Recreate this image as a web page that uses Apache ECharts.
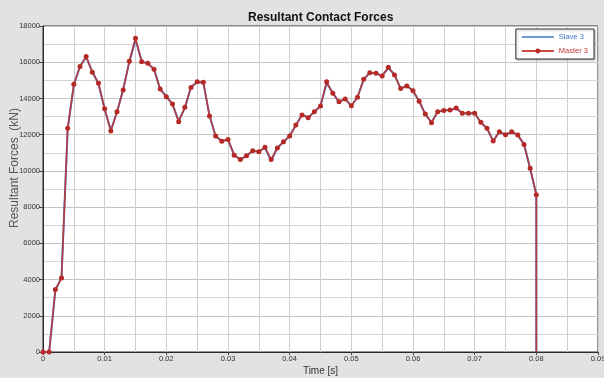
<!DOCTYPE html>
<html>
<head>
<meta charset="utf-8">
<script src="https://cdn.jsdelivr.net/npm/echarts@6/dist/echarts.min.js"></script>
<style>
  html, body { margin: 0; padding: 0; background: #e2e2e2; }
  #chart { width: 604px; height: 378px; }
</style>
</head>
<body>
<div id="chart"></div>
<script>
// Sample times (s)
const times = [
  0.000, 0.001, 0.002, 0.003, 0.004, 0.005, 0.006, 0.007, 0.008, 0.009,
  0.010, 0.011, 0.012, 0.013, 0.014, 0.015, 0.016, 0.017, 0.018, 0.019,
  0.020, 0.021, 0.022, 0.023, 0.024, 0.025, 0.026, 0.027, 0.028, 0.029,
  0.030, 0.031, 0.032, 0.033, 0.034, 0.035, 0.036, 0.037, 0.038, 0.039,
  0.040, 0.041, 0.042, 0.043, 0.044, 0.045, 0.046, 0.047, 0.048, 0.049,
  0.050, 0.051, 0.052, 0.053, 0.054, 0.055, 0.056, 0.057, 0.058, 0.059,
  0.060, 0.061, 0.062, 0.063, 0.064, 0.065, 0.066, 0.067, 0.068, 0.069,
  0.070, 0.071, 0.072, 0.073, 0.074, 0.075, 0.076, 0.077, 0.078, 0.079,
  0.080, 0.080
];

// Resultant force on the master surface (kN)
const masterForces = [
  0, 0, 3450, 4080, 12350, 14780, 15760, 16310, 15450, 14840,
  13430, 12200, 13270, 14470, 16050, 17320, 16030, 15940, 15610, 14520,
  14100, 13690, 12720, 13510, 14610, 14920, 14890, 13030, 11920, 11640,
  11740, 10870, 10630, 10830, 11110, 11060, 11300, 10630, 11260, 11610,
  11920, 12530, 13080, 12930, 13270, 13580, 14920, 14280, 13820, 13970,
  13600, 14060, 15060, 15420, 15390, 15240, 15720, 15300, 14550, 14690,
  14430, 13840, 13140, 12660, 13270, 13340, 13360, 13470, 13180, 13180,
  13180, 12680, 12350, 11650, 12160, 12000, 12160, 11980, 11460, 10140,
  8680, 0
];

// Resultant force on the slave surface (kN)
const slaveForces = [
  0, 0, 3400, 4120, 12300, 14740, 15780, 16290, 15470, 14800,
  13400, 12230, 13250, 14500, 16020, 17250, 16050, 15920, 15630, 14500,
  14120, 13670, 12750, 13480, 14630, 14900, 14870, 13060, 11900, 11660,
  11720, 10890, 10610, 10850, 11090, 11080, 11280, 10560, 11280, 11590,
  11940, 12510, 13100, 12950, 13250, 13600, 14860, 14300, 13800, 13990,
  13580, 14080, 15040, 15440, 15370, 15260, 15680, 15320, 14530, 14710,
  14410, 13860, 13120, 12680, 13250, 13360, 13340, 13450, 13200, 13160,
  13200, 12660, 12370, 11630, 12180, 11980, 12180, 11960, 11480, 10120,
  8700, 0
];

const seriesNames = ['Slave 3', 'Master 3'];
const xTicks = [0, 0.01, 0.02, 0.03, 0.04, 0.05, 0.06, 0.07, 0.08, 0.09];

const slaveColor = '#3f74c8';
const masterColor = '#c4362f';

function pairs(values) {
  return values.map((v, i) => {
    const item = { value: [times[i], v] };
    // the closing drop to zero carries no marker
    if (i === values.length - 1) item.symbol = 'none';
    return item;
  });
}

const chart = echarts.init(document.getElementById('chart'), null, { renderer: 'canvas' });
const font = 'Liberation Sans, Arial, sans-serif';

chart.setOption({
  backgroundColor: '#e2e2e2',
  animation: false,
  title: {
    text: 'Resultant Contact Forces',
    left: 243, top: 7,
    textStyle: { fontFamily: font, fontSize: 12, fontWeight: 'bold', color: '#111' }
  },
  legend: {
    data: [
      { name: seriesNames[0], icon: 'path://M0,0L40,0L40,1.6L0,1.6Z', textStyle: { color: slaveColor } },
      { name: seriesNames[1], textStyle: { color: masterColor } }
    ],
    orient: 'vertical',
    right: 10, top: 29,
    padding: [4, 6, 4, 5],
    itemGap: 6,
    itemWidth: 32, itemHeight: 6,
    backgroundColor: '#ffffff',
    borderColor: '#333',
    borderWidth: 1,
    shadowColor: 'rgba(0,0,0,0.25)', shadowBlur: 2, shadowOffsetX: 1, shadowOffsetY: 1,
    textStyle: { fontFamily: font, fontSize: 7.5 }
  },
  grid: {
    left: 43, right: 6, top: 26, bottom: 26,
    containLabel: false,
    outerBoundsMode: 'none',
    show: true, backgroundColor: '#ffffff',
    borderColor: '#2a2a2a', borderWidth: 1
  },
  xAxis: {
    type: 'value',
    min: 0, max: 0.09, interval: 0.01,
    name: 'Time [s]',
    nameLocation: 'middle', nameGap: 14,
    nameMoveOverlap: false,
    nameTextStyle: { fontFamily: font, fontSize: 10, color: '#333' },
    axisLine: { show: true, onZero: false, lineStyle: { color: '#2a2a2a' } },
    axisTick: { show: true, length: 3, lineStyle: { color: '#444' } },
    axisLabel: {
      fontFamily: font, fontSize: 7.5, color: '#333', margin: 3,
      formatter: v => {
        const t = xTicks.find(x => Math.abs(x - v) < 1e-9);
        return t === 0 ? '0' : (t !== undefined ? t.toFixed(2) : '');
      }
    },
    splitLine: { show: true, lineStyle: { color: '#cfcfcf', width: 1 } },
    minorTick: { show: false, splitNumber: 2 },
    minorSplitLine: { show: true, lineStyle: { color: '#cfcfcf', width: 1 } }
  },
  yAxis: {
    type: 'value',
    min: 0, max: 18000, interval: 2000,
    name: 'Resultant Forces  (kN)',
    nameLocation: 'middle', nameGap: 22,
    nameMoveOverlap: false,
    nameTextStyle: { fontFamily: font, fontSize: 12, color: '#555', padding: [0, 0, 0, 42] },
    axisLine: { show: true, lineStyle: { color: '#2a2a2a' } },
    axisTick: { show: true, length: 4, lineStyle: { color: '#444' } },
    axisLabel: { fontFamily: font, fontSize: 7.5, color: '#333', margin: 3, formatter: v => String(v) },
    splitLine: { show: true, lineStyle: { color: '#c4c4c4', width: 1 } },
    minorTick: { show: false, splitNumber: 2 },
    minorSplitLine: { show: true, lineStyle: { color: '#d6d6d6', width: 1 } }
  },
  series: [
    {
      name: seriesNames[0],
      type: 'line',
      data: pairs(slaveForces),
      showSymbol: false,
      symbol: 'none',
      lineStyle: { color: slaveColor, width: 2 },
      itemStyle: { color: slaveColor },
      z: 2
    },
    {
      name: seriesNames[1],
      type: 'line',
      data: pairs(masterForces),
      symbol: 'circle',
      symbolSize: 5,
      lineStyle: { color: masterColor, width: 1.6, opacity: 0.9 },
      itemStyle: { color: '#b52a24' },
      z: 3
    }
  ]
});
</script>
</body>
</html>
